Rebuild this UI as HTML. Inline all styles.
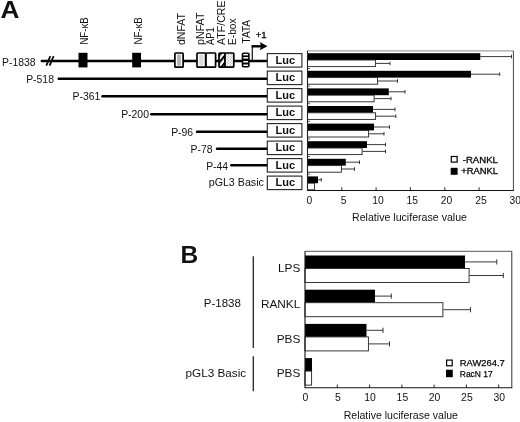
<!DOCTYPE html><html><head><meta charset="utf-8"><title>Figure</title>
<style>html,body{margin:0;padding:0;background:#fff;}svg{display:block;}text{font-family:"Liberation Sans", Arial, sans-serif;fill:#111;}</style></head><body>
<svg width="520" height="422" viewBox="0 0 520 422">
<defs>
<pattern id="hatch" x="1" y="0" width="4.6" height="4.6" patternUnits="userSpaceOnUse" patternTransform="rotate(-50)"><rect width="4.6" height="4.6" fill="#fff"/><rect width="4.6" height="2.2" fill="#000"/></pattern>
<pattern id="dots" width="3" height="3" patternUnits="userSpaceOnUse"><rect width="3" height="3" fill="#fff"/><rect x="0.3" y="0.3" width="0.9" height="0.9" fill="#777"/><rect x="1.8" y="1.8" width="0.9" height="0.9" fill="#777"/></pattern>
<pattern id="hstripe" y="53.6" width="4" height="3.35" patternUnits="userSpaceOnUse"><rect width="4" height="3.35" fill="#fff"/><rect y="2.3" width="4" height="1.3" fill="#000"/></pattern>
</defs>
<rect width="520" height="422" fill="#fff"/>
<text transform="translate(0.4,18.4) scale(1.13,1)" font-size="23.2" font-weight="bold" fill="#000">A</text>
<text x="2.0" y="66.2" font-size="10.4">P-1838</text>
<line x1="41.8" y1="61.0" x2="267.5" y2="61.0" stroke="#000" stroke-width="2.4" stroke-linecap="round"/>
<rect x="267.3" y="53.60" width="34.6" height="13.5" fill="#fff" stroke="#222" stroke-width="1.1"/>
<text x="275.6" y="63.70" font-size="11" font-weight="bold" fill="#000">Luc</text>
<text x="26.2" y="82.6" font-size="10.4">P-518</text>
<line x1="58.7" y1="78.7" x2="267.5" y2="78.7" stroke="#000" stroke-width="2.4" stroke-linecap="round"/>
<rect x="267.3" y="71.10" width="34.6" height="13.5" fill="#fff" stroke="#222" stroke-width="1.1"/>
<text x="275.6" y="81.20" font-size="11" font-weight="bold" fill="#000">Luc</text>
<text x="72.5" y="100.0" font-size="10.4">P-361</text>
<line x1="102.5" y1="96.3" x2="267.5" y2="96.3" stroke="#000" stroke-width="2.4" stroke-linecap="round"/>
<rect x="267.3" y="88.60" width="34.6" height="13.5" fill="#fff" stroke="#222" stroke-width="1.1"/>
<text x="275.6" y="98.70" font-size="11" font-weight="bold" fill="#000">Luc</text>
<text x="121.2" y="118.0" font-size="10.4">P-200</text>
<line x1="151.3" y1="114.2" x2="267.5" y2="114.2" stroke="#000" stroke-width="2.4" stroke-linecap="round"/>
<rect x="267.3" y="106.10" width="34.6" height="13.5" fill="#fff" stroke="#222" stroke-width="1.1"/>
<text x="275.6" y="116.20" font-size="11" font-weight="bold" fill="#000">Luc</text>
<text x="171.2" y="135.5" font-size="10.4">P-96</text>
<line x1="197.0" y1="131.7" x2="267.5" y2="131.7" stroke="#000" stroke-width="2.4" stroke-linecap="round"/>
<rect x="267.3" y="123.60" width="34.6" height="13.5" fill="#fff" stroke="#222" stroke-width="1.1"/>
<text x="275.6" y="133.70" font-size="11" font-weight="bold" fill="#000">Luc</text>
<text x="190.5" y="152.6" font-size="10.4">P-78</text>
<line x1="217.0" y1="148.8" x2="267.5" y2="148.8" stroke="#000" stroke-width="2.4" stroke-linecap="round"/>
<rect x="267.3" y="141.10" width="34.6" height="13.5" fill="#fff" stroke="#222" stroke-width="1.1"/>
<text x="275.6" y="151.20" font-size="11" font-weight="bold" fill="#000">Luc</text>
<text x="206.2" y="170.0" font-size="10.4">P-44</text>
<line x1="231.3" y1="165.3" x2="267.5" y2="165.3" stroke="#000" stroke-width="2.4" stroke-linecap="round"/>
<rect x="267.3" y="158.60" width="34.6" height="13.5" fill="#fff" stroke="#222" stroke-width="1.1"/>
<text x="275.6" y="168.70" font-size="11" font-weight="bold" fill="#000">Luc</text>
<text x="208.7" y="186.3" font-size="10.4" textLength="55.2" lengthAdjust="spacingAndGlyphs">pGL3 Basic</text>
<rect x="267.3" y="176.10" width="34.6" height="13.5" fill="#fff" stroke="#222" stroke-width="1.1"/>
<text x="275.6" y="186.20" font-size="11" font-weight="bold" fill="#000">Luc</text>
<line x1="46.3" y1="65.6" x2="50.3" y2="56.2" stroke="#000" stroke-width="1.7"/>
<line x1="49.6" y1="65.6" x2="53.6" y2="56.2" stroke="#000" stroke-width="1.7"/>
<rect x="78.5" y="52.8" width="9.0" height="14.6" fill="#000"/>
<rect x="132.2" y="52.8" width="8.8" height="14.6" fill="#000"/>
<rect x="174.9" y="53.0" width="8.2" height="14.2" rx="0.8" fill="#fff" stroke="#000" stroke-width="1.7"/>
<rect x="177.1" y="54.6" width="3.8" height="11" fill="#b4b4b4"/>
<rect x="197.0" y="53.0" width="8.6" height="14.2" rx="0.8" fill="#fff" stroke="#000" stroke-width="1.7"/>
<rect x="199.2" y="54.6" width="4.2" height="11" fill="#d8d8d8"/>
<rect x="206.0" y="53.0" width="9.6" height="14.2" rx="0.8" fill="#fff" stroke="#000" stroke-width="1.7"/>
<rect x="219.0" y="53.0" width="6.0" height="14.2" rx="0.8" fill="url(#hatch)" stroke="#000" stroke-width="1.7"/>
<rect x="225.0" y="53.0" width="8.8" height="14.2" rx="0.8" fill="url(#dots)" stroke="#000" stroke-width="1.7"/>
<rect x="241.7" y="52.5" width="8.0" height="15.0" rx="1.8" fill="#000"/>
<rect x="243.3" y="53.9" width="4.8" height="1.5" fill="#fff"/>
<rect x="243.3" y="57.1" width="4.8" height="1.5" fill="#fff"/>
<rect x="243.3" y="61.0" width="4.8" height="1.5" fill="#fff"/>
<rect x="243.3" y="64.5" width="4.8" height="1.5" fill="#fff"/>
<line x1="252.3" y1="61" x2="252.3" y2="45.2" stroke="#111" stroke-width="1.2"/>
<line x1="251.6" y1="46.3" x2="262" y2="46.3" stroke="#000" stroke-width="2.4"/>
<polygon points="259.7,42.1 267.5,46.3 259.7,50.3 261.2,46.3" fill="#000"/>
<text x="255.7" y="38" font-size="9.6" stroke="#000" stroke-width="0.3" fill="#000">+1</text>
<text transform="translate(88.0,44.6) rotate(-90)" font-size="10.3" textLength="27.2" lengthAdjust="spacingAndGlyphs">NF-κB</text>
<text transform="translate(141.8,44.6) rotate(-90)" font-size="10.3" textLength="27.4" lengthAdjust="spacingAndGlyphs">NF-κB</text>
<text transform="translate(185.2,45.0) rotate(-90)" font-size="10.3" textLength="32.0" lengthAdjust="spacingAndGlyphs">dNFAT</text>
<text transform="translate(204.1,44.9) rotate(-90)" font-size="10.3" textLength="32.3" lengthAdjust="spacingAndGlyphs">pNFAT</text>
<text transform="translate(214.3,44.9) rotate(-90)" font-size="10.3" textLength="17.6" lengthAdjust="spacingAndGlyphs">AP1</text>
<text transform="translate(225.0,44.9) rotate(-90)" font-size="10.3" textLength="44.4" lengthAdjust="spacingAndGlyphs">ATF/CRE</text>
<text transform="translate(235.6,44.9) rotate(-90)" font-size="10.3" textLength="26.4" lengthAdjust="spacingAndGlyphs">E-box</text>
<text transform="translate(249.8,43.4) rotate(-90)" font-size="10.3" textLength="23.4" lengthAdjust="spacingAndGlyphs">TATA</text>
<rect x="307.5" y="50.9" width="205.9" height="139.6" fill="#fff" stroke="none"/>
<line x1="307.5" y1="50.9" x2="513.4" y2="50.9" stroke="#8a8a8a" stroke-width="1"/>
<line x1="513.4" y1="50.9" x2="513.4" y2="190.5" stroke="#444" stroke-width="1"/>
<path d="M480.3 56.6 H511.5 M511.5 54.8 V58.4" stroke="#222" stroke-width="0.9" fill="none"/>
<path d="M375.8 63.4 H390.0 M390.0 61.6 V65.2" stroke="#222" stroke-width="0.9" fill="none"/>
<rect x="307.5" y="53.20" width="172.8" height="6.8" fill="#000"/>
<rect x="307.5" y="60.00" width="67.9" height="6.6" fill="#fff" stroke="#222" stroke-width="0.9"/>
<line x1="307.5" y1="68.5" x2="310.0" y2="68.5" stroke="#333" stroke-width="0.8"/>
<path d="M471.0 74.2 H499.7 M499.7 72.4 V76.0" stroke="#222" stroke-width="0.9" fill="none"/>
<path d="M378.0 81.0 H397.5 M397.5 79.2 V82.8" stroke="#222" stroke-width="0.9" fill="none"/>
<rect x="307.5" y="70.80" width="163.5" height="6.8" fill="#000"/>
<rect x="307.5" y="77.60" width="70.1" height="6.6" fill="#fff" stroke="#222" stroke-width="0.9"/>
<line x1="307.5" y1="86.1" x2="310.0" y2="86.1" stroke="#333" stroke-width="0.8"/>
<path d="M388.8 91.8 H405.0 M405.0 90.0 V93.6" stroke="#222" stroke-width="0.9" fill="none"/>
<path d="M374.5 98.6 H391.0 M391.0 96.8 V100.4" stroke="#222" stroke-width="0.9" fill="none"/>
<rect x="307.5" y="88.40" width="81.3" height="6.8" fill="#000"/>
<rect x="307.5" y="95.20" width="66.6" height="6.6" fill="#fff" stroke="#222" stroke-width="0.9"/>
<line x1="307.5" y1="103.7" x2="310.0" y2="103.7" stroke="#333" stroke-width="0.8"/>
<path d="M373.0 109.4 H395.0 M395.0 107.6 V111.2" stroke="#222" stroke-width="0.9" fill="none"/>
<path d="M376.0 116.2 H395.8 M395.8 114.4 V118.0" stroke="#222" stroke-width="0.9" fill="none"/>
<rect x="307.5" y="106.00" width="65.5" height="6.8" fill="#000"/>
<rect x="307.5" y="112.80" width="68.1" height="6.6" fill="#fff" stroke="#222" stroke-width="0.9"/>
<line x1="307.5" y1="121.3" x2="310.0" y2="121.3" stroke="#333" stroke-width="0.8"/>
<path d="M374.0 127.0 H389.5 M389.5 125.2 V128.8" stroke="#222" stroke-width="0.9" fill="none"/>
<path d="M369.0 133.8 H384.0 M384.0 132.0 V135.6" stroke="#222" stroke-width="0.9" fill="none"/>
<rect x="307.5" y="123.60" width="66.5" height="6.8" fill="#000"/>
<rect x="307.5" y="130.40" width="61.1" height="6.6" fill="#fff" stroke="#222" stroke-width="0.9"/>
<line x1="307.5" y1="138.9" x2="310.0" y2="138.9" stroke="#333" stroke-width="0.8"/>
<path d="M367.0 144.6 H385.5 M385.5 142.8 V146.4" stroke="#222" stroke-width="0.9" fill="none"/>
<path d="M362.5 151.4 H385.5 M385.5 149.6 V153.2" stroke="#222" stroke-width="0.9" fill="none"/>
<rect x="307.5" y="141.20" width="59.5" height="6.8" fill="#000"/>
<rect x="307.5" y="148.00" width="54.6" height="6.6" fill="#fff" stroke="#222" stroke-width="0.9"/>
<line x1="307.5" y1="156.5" x2="310.0" y2="156.5" stroke="#333" stroke-width="0.8"/>
<path d="M345.8 162.2 H359.5 M359.5 160.4 V164.0" stroke="#222" stroke-width="0.9" fill="none"/>
<path d="M341.8 169.0 H354.5 M354.5 167.2 V170.8" stroke="#222" stroke-width="0.9" fill="none"/>
<rect x="307.5" y="158.80" width="38.3" height="6.8" fill="#000"/>
<rect x="307.5" y="165.60" width="33.9" height="6.6" fill="#fff" stroke="#222" stroke-width="0.9"/>
<line x1="307.5" y1="174.1" x2="310.0" y2="174.1" stroke="#333" stroke-width="0.8"/>
<path d="M318.0 179.8 H321.3 M321.3 178.0 V181.6" stroke="#222" stroke-width="0.9" fill="none"/>
<rect x="307.5" y="176.40" width="10.5" height="6.8" fill="#000"/>
<rect x="307.5" y="183.20" width="7.1" height="6.6" fill="#fff" stroke="#222" stroke-width="0.9"/>
<line x1="307.5" y1="50.9" x2="307.5" y2="190.5" stroke="#222" stroke-width="1.1"/>
<line x1="307.0" y1="190.5" x2="513.9" y2="190.5" stroke="#111" stroke-width="1.1"/>
<text x="309.3" y="203.8" font-size="10.3" text-anchor="middle">0</text>
<line x1="341.8" y1="187.3" x2="341.8" y2="190.5" stroke="#111" stroke-width="0.9"/>
<text x="343.6" y="203.8" font-size="10.3" text-anchor="middle">5</text>
<line x1="376.1" y1="187.3" x2="376.1" y2="190.5" stroke="#111" stroke-width="0.9"/>
<text x="377.9" y="203.8" font-size="10.3" text-anchor="middle">10</text>
<line x1="410.4" y1="187.3" x2="410.4" y2="190.5" stroke="#111" stroke-width="0.9"/>
<text x="412.2" y="203.8" font-size="10.3" text-anchor="middle">15</text>
<line x1="444.8" y1="187.3" x2="444.8" y2="190.5" stroke="#111" stroke-width="0.9"/>
<text x="446.6" y="203.8" font-size="10.3" text-anchor="middle">20</text>
<line x1="479.1" y1="187.3" x2="479.1" y2="190.5" stroke="#111" stroke-width="0.9"/>
<text x="480.9" y="203.8" font-size="10.3" text-anchor="middle">25</text>
<text x="515.2" y="203.8" font-size="10.3" text-anchor="middle">30</text>
<text x="352" y="221" font-size="10.3" textLength="115" lengthAdjust="spacingAndGlyphs">Relative luciferase value</text>
<rect x="451.3" y="156.5" width="5.8" height="5.6" fill="#fff" stroke="#000" stroke-width="1.2"/>
<rect x="450.7" y="167.8" width="6.9" height="7.0" fill="#000"/>
<text x="462.7" y="162.8" font-size="8.5" stroke="#000" stroke-width="0.3" textLength="35.2" lengthAdjust="spacingAndGlyphs" fill="#000">-RANKL</text>
<text x="461.2" y="174.3" font-size="8.5" stroke="#000" stroke-width="0.3" textLength="36.7" lengthAdjust="spacingAndGlyphs" fill="#000">+RANKL</text>
<text transform="translate(180.6,262.6) scale(1.04,1)" font-size="23.6" font-weight="bold" fill="#000">B</text>
<line x1="253.3" y1="256.3" x2="253.3" y2="348" stroke="#222" stroke-width="1.3"/>
<line x1="253.3" y1="356.3" x2="253.3" y2="391.3" stroke="#222" stroke-width="1.3"/>
<text x="203.7" y="307" font-size="11.8" textLength="37.3" lengthAdjust="spacingAndGlyphs">P-1838</text>
<text x="185.5" y="377" font-size="11.8" textLength="60.7" lengthAdjust="spacingAndGlyphs">pGL3 Basic</text>
<text x="300.3" y="271.6" font-size="11.8" text-anchor="end">LPS</text>
<text x="300.3" y="308" font-size="11.8" text-anchor="end">RANKL</text>
<text x="300.3" y="342.8" font-size="11.8" text-anchor="end">PBS</text>
<text x="300.3" y="377" font-size="11.8" text-anchor="end">PBS</text>
<line x1="305.0" y1="251.3" x2="511.8" y2="251.3" stroke="#555" stroke-width="1"/>
<line x1="511.8" y1="251.3" x2="511.8" y2="387.8" stroke="#333" stroke-width="1"/>
<path d="M465.0 261.9 H496.8 M496.8 259.3 V264.5" stroke="#222" stroke-width="0.9" fill="none"/>
<path d="M469.5 275.5 H503.3 M503.3 272.9 V278.1" stroke="#222" stroke-width="0.9" fill="none"/>
<rect x="305.0" y="255.50" width="160.0" height="13" fill="#000"/>
<rect x="305.0" y="268.50" width="164.1" height="14" fill="#fff" stroke="#222" stroke-width="0.9"/>
<path d="M375.0 296.1 H391.3 M391.3 293.5 V298.7" stroke="#222" stroke-width="0.9" fill="none"/>
<path d="M443.3 309.7 H470.5 M470.5 307.1 V312.3" stroke="#222" stroke-width="0.9" fill="none"/>
<rect x="305.0" y="289.70" width="70.0" height="13" fill="#000"/>
<rect x="305.0" y="302.70" width="137.9" height="14" fill="#fff" stroke="#222" stroke-width="0.9"/>
<path d="M366.5 330.3 H383.0 M383.0 327.7 V332.9" stroke="#222" stroke-width="0.9" fill="none"/>
<path d="M368.8 343.9 H389.5 M389.5 341.3 V346.5" stroke="#222" stroke-width="0.9" fill="none"/>
<rect x="305.0" y="323.90" width="61.5" height="13" fill="#000"/>
<rect x="305.0" y="336.90" width="63.4" height="14" fill="#fff" stroke="#222" stroke-width="0.9"/>
<rect x="305.0" y="358.10" width="7.0" height="13" fill="#000"/>
<rect x="305.0" y="371.10" width="6.6" height="14" fill="#fff" stroke="#222" stroke-width="0.9"/>
<line x1="305.0" y1="251.3" x2="305.0" y2="387.8" stroke="#111" stroke-width="1.1"/>
<line x1="304.5" y1="387.8" x2="512.3" y2="387.8" stroke="#111" stroke-width="1.1"/>
<text x="305.5" y="401" font-size="10.4" text-anchor="middle">0</text>
<line x1="337.3" y1="384.5" x2="337.3" y2="387.8" stroke="#111" stroke-width="0.9"/>
<text x="337.8" y="401" font-size="10.4" text-anchor="middle">5</text>
<line x1="369.6" y1="384.5" x2="369.6" y2="387.8" stroke="#111" stroke-width="0.9"/>
<text x="370.1" y="401" font-size="10.4" text-anchor="middle">10</text>
<line x1="401.9" y1="384.5" x2="401.9" y2="387.8" stroke="#111" stroke-width="0.9"/>
<text x="402.4" y="401" font-size="10.4" text-anchor="middle">15</text>
<line x1="434.1" y1="384.5" x2="434.1" y2="387.8" stroke="#111" stroke-width="0.9"/>
<text x="434.6" y="401" font-size="10.4" text-anchor="middle">20</text>
<line x1="466.4" y1="384.5" x2="466.4" y2="387.8" stroke="#111" stroke-width="0.9"/>
<text x="466.9" y="401" font-size="10.4" text-anchor="middle">25</text>
<line x1="498.7" y1="384.5" x2="498.7" y2="387.8" stroke="#111" stroke-width="0.9"/>
<text x="499.2" y="401" font-size="10.4" text-anchor="middle">30</text>
<text x="343.7" y="419" font-size="10.3" textLength="114.3" lengthAdjust="spacingAndGlyphs">Relative luciferase value</text>
<rect x="446.6" y="360.1" width="5.6" height="5.7" fill="#fff" stroke="#000" stroke-width="1.2"/>
<rect x="446.0" y="369.7" width="6.8" height="7.5" fill="#000"/>
<text x="459.8" y="366.3" font-size="8.9" stroke="#000" stroke-width="0.25" textLength="45" lengthAdjust="spacingAndGlyphs" fill="#000">RAW264.7</text>
<text x="459.8" y="376.6" font-size="8.9" stroke="#000" stroke-width="0.25" textLength="32.8" lengthAdjust="spacingAndGlyphs" fill="#000">RacN 17</text>
</svg></body></html>
